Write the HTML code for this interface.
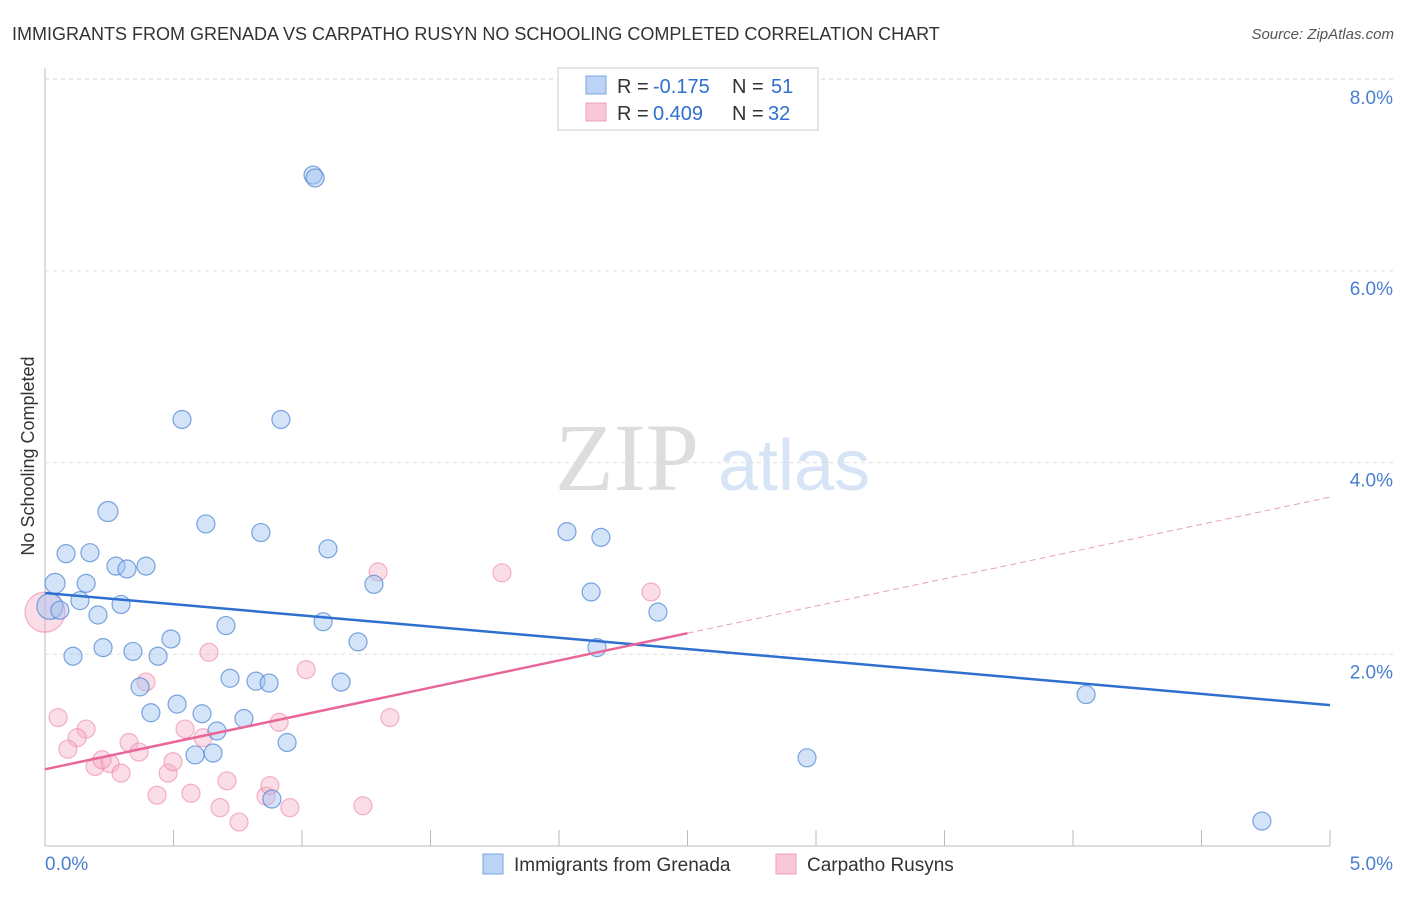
<!DOCTYPE html>
<html><head><meta charset="utf-8"><style>
body{margin:0;background:#fff;font-family:"Liberation Sans",sans-serif}
</style></head><body>
<svg id="c" width="1406" height="892" xmlns="http://www.w3.org/2000/svg" style="font-family:'Liberation Sans',sans-serif">
<text x="12" y="40" font-size="18" fill="#333">IMMIGRANTS FROM GRENADA VS CARPATHO RUSYN NO SCHOOLING COMPLETED CORRELATION CHART</text>
<text x="1394" y="39" font-size="15" fill="#555" text-anchor="end" font-style="italic">Source: ZipAtlas.com</text>
<text x="34" y="456" font-size="18" fill="#333" text-anchor="middle" transform="rotate(-90 34 456)">No Schooling Completed</text>
<text x="555" y="490" font-size="96" fill="#ddd" font-family="Liberation Serif">ZIP</text>
<text x="718" y="490" font-size="72" fill="#d6e4f5">atlas</text>
<g id="grid"></g><g id="pts"></g><g id="lines"></g>
<g>
<rect x="558" y="68" width="260" height="62" fill="#fff" stroke="#ccc"/>
<rect x="586" y="76" width="20" height="18" fill="#bcd4f5" stroke="#7aa5e0"/>
<rect x="586" y="103" width="20" height="18" fill="#f9c8d6" stroke="#eea0b8"/>
<text x="617" y="93" font-size="20" fill="#333">R =</text>
<text x="653" y="93" font-size="20" fill="#2f6fd0">-0.175</text>
<text x="732" y="93" font-size="20" fill="#333">N =</text>
<text x="771" y="93" font-size="20" fill="#2f6fd0">51</text>
<text x="617" y="120" font-size="20" fill="#333">R =</text>
<text x="653" y="120" font-size="20" fill="#2f6fd0">0.409</text>
<text x="732" y="120" font-size="20" fill="#333">N =</text>
<text x="768" y="120" font-size="20" fill="#2f6fd0">32</text>
</g>
<g>
<rect x="483" y="854" width="20" height="20" fill="#bcd4f5" stroke="#7aa5e0"/>
<text x="514" y="871" font-size="19" fill="#333">Immigrants from Grenada</text>
<rect x="776" y="854" width="20" height="20" fill="#f9c8d6" stroke="#eea0b8"/>
<text x="807" y="871" font-size="19" fill="#333">Carpatho Rusyns</text>
</g>
</svg>
<script>
const yTicks=[2,4,6,8];
const xTickLabels=["0.0%","5.0%"];
const blueX=[1.043,1.051,0.533,0.918,0.245,0.626,0.840,2.031,2.163,0.082,0.175,1.101,0.276,0.319,0.393,0.039,0.160,1.280,2.125,0.136,0.296,0.019,0.058,0.206,2.385,1.082,0.704,0.490,1.218,0.226,0.342,0.440,0.109,2.148,0.720,0.821,0.872,1.152,0.370,0.514,0.412,0.611,0.774,0.669,0.942,0.584,0.654,0.883,4.051,2.965,4.735];
const blueY=[7.0,6.97,4.45,4.45,3.49,3.36,3.27,3.28,3.22,3.05,3.06,3.1,2.92,2.89,2.92,2.74,2.74,2.73,2.65,2.56,2.52,2.5,2.46,2.41,2.44,2.34,2.3,2.16,2.13,2.07,2.03,1.98,1.98,2.07,1.75,1.72,1.7,1.71,1.66,1.48,1.39,1.38,1.33,1.2,1.08,0.95,0.97,0.49,1.58,0.92,0.26];
const blueR=[9,9,9,9,10,9,9,9,9,9,9,9,9,9,9,10,9,9,9,9,9,13,9,9,9,9,9,9,9,9,9,9,9,9,9,9,9,9,9,9,9,9,9,9,9,9,9,9,9,9,9];
const pinkX=[0,0.051,0.160,0.125,0.089,0.195,0.253,0.222,0.296,0.327,0.366,0.393,0.479,0.498,0.436,0.545,0.615,0.568,0.638,0.708,0.681,0.755,0.860,0.875,0.911,0.953,1.016,1.296,1.342,1.237,1.778,2.358];
const pinkY=[2.44,1.34,1.22,1.13,1.01,0.83,0.86,0.9,0.76,1.08,0.98,1.71,0.76,0.88,0.53,1.22,1.13,0.55,2.02,0.68,0.4,0.25,0.52,0.63,1.29,0.4,1.84,2.86,1.34,0.42,2.85,2.65];
const pinkR=[20,9,9,9,9,9,9,9,9,9,9,9,9,9,9,9,9,9,9,9,9,9,9,9,9,9,9,9,9,9,9,9];
const blueLine=[2.64,-0.234];
const pinkLine=[0.8,0.568];
const pinkSolidEnd=2.5;
const X=v=>45+v/5*1285, Y=v=>846-v/2*191.7;
const NS="http://www.w3.org/2000/svg";
function mk(t,a,p){const e=document.createElementNS(NS,t);for(const k in a)e.setAttribute(k,a[k]);p.appendChild(e);return e;}
const grid=document.getElementById('grid');
mk('line',{x1:45,y1:68,x2:45,y2:846,stroke:'#bbb'},grid);
mk('line',{x1:45,y1:846,x2:1330,y2:846,stroke:'#bbb'},grid);
for(let i=0;i<=10;i++){const l=mk('line',{x1:X(i*0.5),y1:830,x2:X(i*0.5),y2:846,stroke:'#bbb'},grid);

}
mk('line',{x1:45,y1:79,x2:1394,y2:79,stroke:'#ddd','stroke-dasharray':'4,4'},grid);
yTicks.forEach(t=>{const l=mk('line',{x1:45,y1:Y(t),x2:1394,y2:Y(t),stroke:'#ddd','stroke-dasharray':'4,4'},grid);


const tx=mk('text',{x:1393,y:(t==8?104:Y(t)+24),'font-size':19,fill:'#4a7fd0','text-anchor':'end'},grid);
tx.textContent=t.toFixed(1)+'%';

});
[[45,'start'],[1393,'end']].forEach((p,i)=>{const tx=mk('text',{x:p[0],y:870,'font-size':19,fill:'#4a7fd0','text-anchor':p[1]},grid);tx.textContent=xTickLabels[i];

});
const pts=document.getElementById('pts');
pinkX.forEach((x,i)=>{const c=mk('circle',{cx:X(x),cy:Y(pinkY[i]),r:pinkR[i],fill:'rgba(246,170,195,0.4)',stroke:'rgba(236,130,165,0.6)','stroke-width':1.2},pts);

});
blueX.forEach((x,i)=>{const c=mk('circle',{cx:X(x),cy:Y(blueY[i]),r:blueR[i],fill:'rgba(160,196,240,0.45)',stroke:'rgba(80,135,215,0.75)','stroke-width':1.2},pts);

});
const lines=document.getElementById('lines');
let l=mk('line',{x1:X(0),y1:Y(blueLine[0]),x2:X(5),y2:Y(blueLine[0]+5*blueLine[1]),stroke:'#2f6fd0','stroke-width':2.5},lines);


l=mk('line',{x1:X(0),y1:Y(pinkLine[0]),x2:X(pinkSolidEnd),y2:Y(pinkLine[0]+pinkSolidEnd*pinkLine[1]),stroke:'#e8679a','stroke-width':2.5},lines);


l=mk('line',{x1:X(pinkSolidEnd),y1:Y(pinkLine[0]+pinkSolidEnd*pinkLine[1]),x2:X(5),y2:Y(pinkLine[0]+5*pinkLine[1]),stroke:'#e8a0ba','stroke-width':1,'stroke-dasharray':'6,4'},lines);


</script>
</body></html>
